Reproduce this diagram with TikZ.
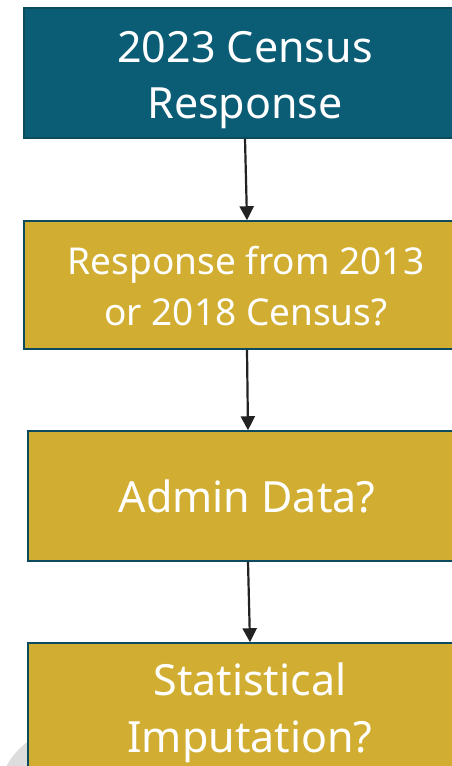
\documentclass[tikz,border=0pt]{standalone}
\usepackage{fontspec}
\setmainfont[Ligatures={NoCommon}]{Noto Sans}
\usetikzlibrary{arrows.meta}
\definecolor{teal1}{HTML}{0B5C75}
\definecolor{gold1}{HTML}{D1AE31}
\definecolor{edge1}{HTML}{0C4A5E}
\definecolor{arr}{HTML}{222222}
\definecolor{lgray}{HTML}{DDDDDD}
\tikzset{
  box/.style={draw=edge1, line width=1.5pt, text=white, align=center,
    font=\fontsize{43}{56}\selectfont, inner sep=0pt},
  smalltext/.style={font=\fontsize{37}{51}\selectfont},
  tealbox/.style={box, fill=teal1},
  goldbox/.style={box, fill=gold1},
  flow/.style={draw=arr, line width=2.2pt, -{Triangle[width=14pt,length=14pt]}}
}
\begin{document}
\begin{tikzpicture}[x=1pt,y=-1pt]
\useasboundingbox (0,0) rectangle (452,766);
\clip (0,0) rectangle (452,766);
\fill[white] (0,0) rectangle (452,766);
\fill[lgray] (70,800) circle (72);
\node[tealbox, minimum width=444pt, minimum height=130pt] (b1) at (246,73) {};
\node[goldbox, minimum width=444pt, minimum height=128pt] (b2) at (246,285) {};
\node[goldbox, minimum width=440pt, minimum height=130pt] (b3) at (248,496) {};
\node[goldbox, minimum width=440pt, minimum height=130pt] (b4) at (248,708) {};
\node[box, draw=none, anchor=base] (t1) at (245,62) {2023 Census};
\node[box, draw=none, anchor=base] (t1b) at (245,118) {Response};
\node[box, smalltext, draw=none, anchor=base] (t2) at (246,274) {Response from 2013};
\node[box, smalltext, draw=none, anchor=base] (t2b) at (246,325) {or 2018 Census?};
\node[box, draw=none, anchor=base] (t3) at (247,512) {Admin Data?};
\node[box, draw=none, anchor=base] (t4) at (250,695) {Statistical};
\node[box, draw=none, anchor=base] (t4b) at (250,752) {Imputation?};
\draw[flow] ([xshift=-1pt]b1.south) -- ([xshift=1pt]b2.north);
\draw[flow] ([xshift=1pt]b2.south) -- (b3.north);
\draw[flow] (b3.south) -- ([xshift=2pt]b4.north);
\end{tikzpicture}
\end{document}
